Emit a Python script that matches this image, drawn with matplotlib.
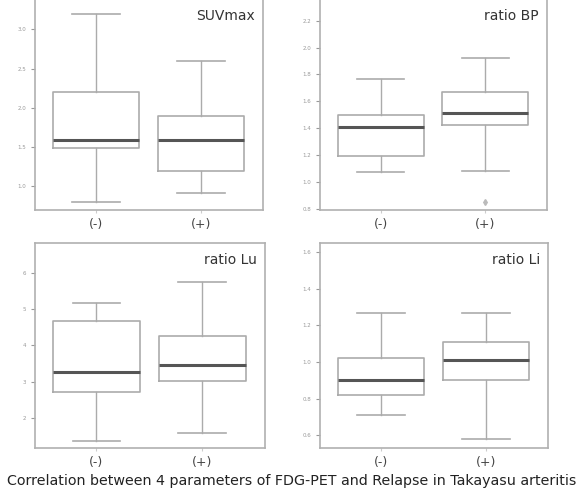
import matplotlib.pyplot as plt

groups = ['(-)', '(+)']

# box stats per panel: whisker low, q1, median, q3, whisker high
suv_lo = [0.80, 0.91]
suv_q1 = [1.49, 1.19]
suv_med = [1.59, 1.59]
suv_q3 = [2.20, 1.90]
suv_hi = [3.20, 2.60]

bp_lo = [1.07, 1.08]
bp_q1 = [1.19, 1.42]
bp_med = [1.41, 1.51]
bp_q3 = [1.50, 1.67]
bp_hi = [1.77, 1.92]
bp_fliers = [[], [0.85]]

lu_lo = [1.37, 1.59]
lu_q1 = [2.72, 3.02]
lu_med = [3.27, 3.46]
lu_q3 = [4.67, 4.26]
lu_hi = [5.17, 5.75]

li_lo = [0.71, 0.58]
li_q1 = [0.82, 0.90]
li_med = [0.90, 1.01]
li_q3 = [1.02, 1.11]
li_hi = [1.27, 1.27]

suv_ticks = [1.0, 1.5, 2.0, 2.5, 3.0]
bp_ticks = [0.8, 1.0, 1.2, 1.4, 1.6, 1.8, 2.0, 2.2]
lu_ticks = [2, 3, 4, 5, 6]
li_ticks = [0.6, 0.8, 1.0, 1.2, 1.4, 1.6]

panels = [
    ('SUVmax', suv_lo, suv_q1, suv_med, suv_q3, suv_hi, [[], []], suv_ticks, (0.70, 3.40),
     [0.060, 0.575, 0.391, 0.429]),
    ('ratio BP', bp_lo, bp_q1, bp_med, bp_q3, bp_hi, bp_fliers, bp_ticks, (0.79, 2.37),
     [0.549, 0.575, 0.389, 0.429]),
    ('ratio Lu', lu_lo, lu_q1, lu_med, lu_q3, lu_hi, [[], []], lu_ticks, (1.17, 6.82),
     [0.060, 0.093, 0.394, 0.415]),
    ('ratio Li', li_lo, li_q1, li_med, li_q3, li_hi, [[], []], li_ticks, (0.53, 1.65),
     [0.549, 0.093, 0.391, 0.415]),
]

line_col = '#ababab'
med_col = '#555555'

fig = plt.figure(figsize=(5.83, 4.94), dpi=100)

for name, lo, q1, med, q3, hi, fl, ticks, ylim, rect in panels:
    ax = fig.add_axes(rect)
    stats = []
    for i in range(2):
        stats.append({'whislo': lo[i], 'q1': q1[i], 'med': med[i], 'q3': q3[i],
                      'whishi': hi[i], 'fliers': fl[i]})
    ax.bxp(stats, positions=[0, 1], widths=0.82, capwidths=0.45,
           boxprops=dict(color=line_col, linewidth=1.2),
           whiskerprops=dict(color=line_col, linewidth=1.0),
           capprops=dict(color=line_col, linewidth=1.2),
           medianprops=dict(color=med_col, linewidth=2.2),
           flierprops=dict(marker='d', markersize=3, markerfacecolor='#bbbbbb',
                           markeredgecolor='#bbbbbb'))
    ax.set_xlim(-0.58, 1.59)
    ax.set_ylim(*ylim)
    ax.set_yticks(ticks)
    ax.set_yticklabels([str(t) for t in ticks])
    ax.set_xticks([0, 1])
    ax.set_xticklabels(groups)
    ax.tick_params(axis='y', labelsize=4, colors='#999999', length=3)
    ax.tick_params(axis='x', labelsize=9, labelcolor='#444444', color='#cccccc', length=2)
    for s in ax.spines.values():
        s.set_color('#b0b0b0')
        s.set_linewidth(1.2)
    ax.text(0.965, 0.95, name, transform=ax.transAxes, ha='right', va='top',
            fontsize=10, color='#333333')

fig.text(0.5, 0.026, 'Correlation between 4 parameters of FDG-PET and Relapse in Takayasu arteritis',
         ha='center', va='center', fontsize=10.3, color='#222222')

plt.savefig('out.png', dpi=100)
